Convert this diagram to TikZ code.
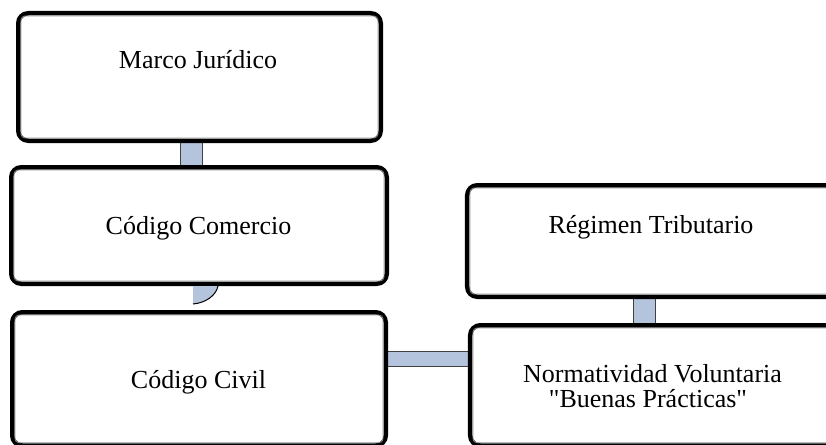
\documentclass[tikz,border=0pt]{standalone}
\usepackage{fontspec}
\setmainfont{Liberation Serif}
\usetikzlibrary{calc}
\pgfdeclarelayer{bg}
\pgfsetlayers{bg,main}
\definecolor{barblue}{RGB}{181,196,221}
\definecolor{rimgray}{RGB}{150,150,150}
% straight double quote, set as a glyph so the TeX ligature mapping leaves it alone
\newcommand{\straightquote}{\XeTeXglyph\XeTeXcharglyph34\relax}
\tikzset{
  box/.style={draw=black, line width=4.5pt, rounded corners=10pt, fill=white,
    rectangle, inner sep=0pt},
  rim/.style={draw=rimgray, line width=0.7pt, rounded corners=4pt},
  bar/.style={fill=barblue, draw=black!75, line width=0.8pt},
  label/.style={font=\fontsize{26}{30}\selectfont, inner sep=0pt, anchor=base}
}
\begin{document}
\begin{tikzpicture}[x=1pt, y=-1pt]
\useasboundingbox (0,0) rectangle (826,444);
\clip (0,0) rectangle (826,444);

% boxes
\node[box, minimum width=362.5pt, minimum height=127.5pt] (juridico) at (199.5,77) {};
\node[box, minimum width=375.5pt, minimum height=116.5pt] (comercio) at (199,225.5) {};
\node[box, minimum width=373.5pt, minimum height=133.25pt] (civil) at (199,378.9) {};
\node[box, minimum width=372.75pt, minimum height=111.5pt] (tributario) at (653.6,241) {};
\node[box, minimum width=374.75pt, minimum height=120.25pt] (voluntaria) at (657.6,385.4) {};

% thin inner rims
\foreach \b in {juridico,comercio,civil,tributario,voluntaria}
  \draw[rim] ($(\b.north west)+(5,5)$) rectangle ($(\b.south east)+(-5,-5)$);

% labels
\node[label] (tjur) at (198,68) {Marco Jurídico};
\node[label] (tcom) at (198.5,234) {Código Comercio};
\node[label] (tciv) at (198.5,388) {Código Civil};
\node[label] (ttri) at (651,233) {Régimen Tributario};
\node[label] (tvol1) at (652.5,382) {Normatividad Voluntaria};
\node[label] (tvol2) at (648,407) {\straightquote Buenas Prácticas\straightquote};

% connectors behind the boxes
\begin{pgfonlayer}{bg}
  \draw[bar] ($(juridico.south)+(-19.5,-2)$) rectangle ($(comercio.north)+(3,2)$);
  \draw[bar] ($(tributario.south)+(-20.6,-2)$) rectangle ($(voluntaria.north)+(-2.6,2)$);
  \draw[bar] ($(civil.east)+(-2,-28)$) rectangle ($(voluntaria.west)+(2,-19.4)$);
\end{pgfonlayer}
\fill[barblue] ($(comercio.south)+(-6,0)$) coordinate (qa)
  -- ($(comercio.south)+(19,0)$) coordinate (qb)
  .. controls ($(qb)+(-2,10)$) and ($(qa)+(12,17)$) .. ($(qa)+(0,18)$) coordinate (qc)
  -- cycle;
\draw[black, line width=1pt] (qb) .. controls ($(qb)+(-2,10)$) and ($(qa)+(12,17)$) .. (qc);
\end{tikzpicture}
\end{document}
